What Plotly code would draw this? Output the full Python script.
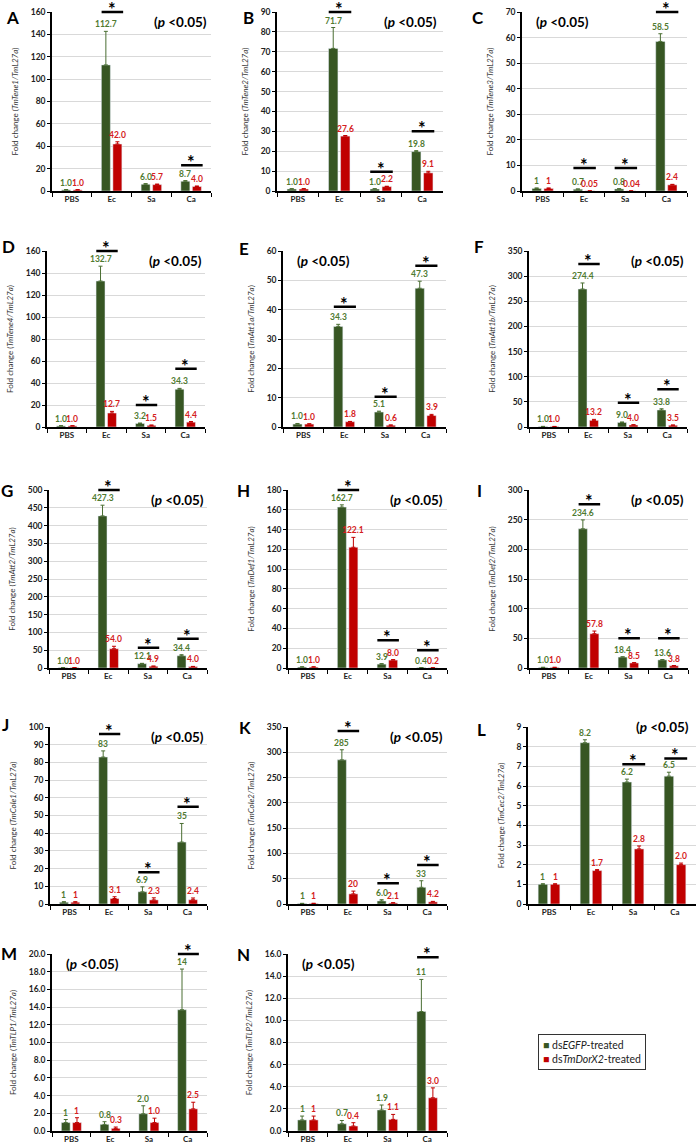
import plotly.graph_objects as go
from plotly.subplots import make_subplots

categories = ["PBS", "Ec", "Sa", "Ca"]

# A - TmTene1
a_egfp = [1.0, 112.7, 6.0, 8.7]
a_egfp_err = [0.3, 30.0, 0.6, 0.6]
a_dorx2 = [1.0, 42.0, 5.7, 4.0]
a_dorx2_err = [0.2, 2.0, 0.5, 0.5]
a_egfp_lbl = ["1.0", "112.7", "6.0", "8.7"]
a_dorx2_lbl = ["1.0", "42.0", "5.7", "4.0"]
a_sig = [None, 160, None, 23]

# B - TmTene2
b_egfp = [1.0, 71.7, 1.0, 19.8]
b_egfp_err = [0.2, 10.5, 0.2, 0.5]
b_dorx2 = [1.0, 27.6, 2.2, 9.1]
b_dorx2_err = [0.2, 0.3, 0.2, 0.8]
b_egfp_lbl = ["1.0", "71.7", "1.0", "19.8"]
b_dorx2_lbl = ["1.0", "27.6", "2.2", "9.1"]
b_sig = [None, 90, 9.7, 30]

# C - TmTene3
c_egfp = [1, 0.7, 0.8, 58.5]
c_egfp_err = [0.2, 0.1, 0.1, 3.0]
c_dorx2 = [1, 0.05, 0.04, 2.4]
c_dorx2_err = [0.2, 0.02, 0.02, 0.2]
c_egfp_lbl = ["1", "0.7", "0.8", "58.5"]
c_dorx2_lbl = ["1", "0.05", "0.04", "2.4"]
c_sig = [None, 9, 9, 70]

# D - TmTene4
d_egfp = [1.0, 132.7, 3.2, 34.3]
d_egfp_err = [0.2, 13.5, 0.4, 0.8]
d_dorx2 = [1.0, 12.7, 1.5, 4.4]
d_dorx2_err = [0.2, 1.5, 0.3, 0.6]
d_egfp_lbl = ["1.0", "132.7", "3.2", "34.3"]
d_dorx2_lbl = ["1.0", "12.7", "1.5", "4.4"]
d_sig = [None, 160, 20, 53]

# E - TmAtt1a
e_egfp = [1.0, 34.3, 5.1, 47.3]
e_egfp_err = [0.2, 0.7, 0.3, 2.4]
e_dorx2 = [1.0, 1.8, 0.6, 3.9]
e_dorx2_err = [0.1, 0.1, 0.1, 0.4]
e_egfp_lbl = ["1.0", "34.3", "5.1", "47.3"]
e_dorx2_lbl = ["1.0", "1.8", "0.6", "3.9"]
e_sig = [None, 41, 10.3, 55]

# F - TmAtt1b
f_egfp = [1.0, 274.4, 9.0, 33.8]
f_egfp_err = [0.3, 12.0, 1.0, 2.5]
f_dorx2 = [1.0, 13.2, 4.0, 3.5]
f_dorx2_err = [0.2, 2.0, 0.6, 0.5]
f_egfp_lbl = ["1.0", "274.4", "9.0", "33.8"]
f_dorx2_lbl = ["1.0", "13.2", "4.0", "3.5"]
f_sig = [None, 324, 48, 75]

# G - TmAtt2
g_egfp = [1.0, 427.3, 12.1, 34.4]
g_egfp_err = [0.2, 30.0, 1.0, 3.0]
g_dorx2 = [1.0, 54.0, 4.9, 4.0]
g_dorx2_err = [0.2, 7.0, 0.5, 0.5]
g_egfp_lbl = ["1.0", "427.3", "12.1", "34.4"]
g_dorx2_lbl = ["1.0", "54.0", "4.9", "4.0"]
g_sig = [None, 500, 57, 82]

# H - TmDef1
h_egfp = [1.0, 162.7, 3.9, 0.4]
h_egfp_err = [0.2, 2.3, 0.5, 0.1]
h_dorx2 = [1.0, 122.1, 8.0, 0.2]
h_dorx2_err = [0.2, 10.0, 0.5, 0.05]
h_egfp_lbl = ["1.0", "162.7", "3.9", "0.4"]
h_dorx2_lbl = ["1.0", "122.1", "8.0", "0.2"]
h_sig = [None, 180, 28, 18]

# I - TmDef2
i_egfp = [1.0, 234.6, 18.4, 13.6]
i_egfp_err = [0.2, 15.0, 0.5, 0.5]
i_dorx2 = [1.0, 57.8, 8.5, 3.8]
i_dorx2_err = [0.2, 4.5, 0.5, 0.4]
i_egfp_lbl = ["1.0", "234.6", "18.4", "13.6"]
i_dorx2_lbl = ["1.0", "57.8", "8.5", "3.8"]
i_sig = [None, 276, 50, 50]

# J - TmCole1
j_egfp = [1, 83, 6.9, 35]
j_egfp_err = [0.3, 3.5, 2.8, 10.5]
j_dorx2 = [1, 3.1, 2.3, 2.4]
j_dorx2_err = [0.3, 1.0, 1.2, 1.0]
j_egfp_lbl = ["1", "83", "6.9", "35"]
j_dorx2_lbl = ["1", "3.1", "2.3", "2.4"]
j_sig = [None, 96, 18, 55]

# K - TmCole2
k_egfp = [1, 285, 6.0, 33]
k_egfp_err = [0.3, 20.0, 2.5, 13.0]
k_dorx2 = [1, 20, 2.1, 4.2]
k_dorx2_err = [0.5, 5.5, 0.5, 1.0]
k_egfp_lbl = ["1", "285", "6.0", "33"]
k_dorx2_lbl = ["1", "20", "2.1", "4.2"]
k_sig = [None, 342, 41, 77]

# L - TmCec2
l_egfp = [1, 8.2, 6.2, 6.5]
l_egfp_err = [0.03, 0.15, 0.15, 0.2]
l_dorx2 = [1, 1.7, 2.8, 2.0]
l_dorx2_err = [0.03, 0.05, 0.15, 0.08]
l_egfp_lbl = ["1", "8.2", "6.2", "6.5"]
l_dorx2_lbl = ["1", "1.7", "2.8", "2.0"]
l_sig = [None, 9.1, 7.1, 7.4]

# M - TmTLP1
m_egfp = [0.95, 0.75, 1.95, 13.7]
m_egfp_err = [0.35, 0.3, 0.9, 4.6]
m_dorx2 = [0.95, 0.3, 0.95, 2.5]
m_dorx2_err = [0.55, 0.15, 0.5, 0.75]
m_egfp_lbl = ["1", "0.8", "2.0", "14"]
m_dorx2_lbl = ["1", "0.3", "1.0", "2.5"]
m_sig = [None, None, None, 20]

# N - TmTLP2
n_egfp = [1.0, 0.65, 1.9, 10.8]
n_egfp_err = [0.35, 0.3, 0.45, 2.9]
n_dorx2 = [1.0, 0.45, 1.05, 3.0]
n_dorx2_err = [0.35, 0.3, 0.45, 0.9]
n_egfp_lbl = ["1", "0.7", "1.9", "11"]
n_dorx2_lbl = ["1", "0.4", "1.1", "3.0"]
n_sig = [None, None, None, 15.7]

# letter, gene, y max, dtick, tick format, side of p-label
panels = [
    ("A", "TmTene1", 160, 20, "", "right", a_egfp, a_egfp_err, a_dorx2, a_dorx2_err, a_egfp_lbl, a_dorx2_lbl, a_sig),
    ("B", "TmTene2", 90, 10, "", "right", b_egfp, b_egfp_err, b_dorx2, b_dorx2_err, b_egfp_lbl, b_dorx2_lbl, b_sig),
    ("C", "TmTene3", 70, 10, "", "left", c_egfp, c_egfp_err, c_dorx2, c_dorx2_err, c_egfp_lbl, c_dorx2_lbl, c_sig),
    ("D", "TmTene4", 160, 20, "", "right", d_egfp, d_egfp_err, d_dorx2, d_dorx2_err, d_egfp_lbl, d_dorx2_lbl, d_sig),
    ("E", "TmAtt1a", 60, 10, "", "left", e_egfp, e_egfp_err, e_dorx2, e_dorx2_err, e_egfp_lbl, e_dorx2_lbl, e_sig),
    ("F", "TmAtt1b", 350, 50, "", "right", f_egfp, f_egfp_err, f_dorx2, f_dorx2_err, f_egfp_lbl, f_dorx2_lbl, f_sig),
    ("G", "TmAtt2", 500, 50, "", "right", g_egfp, g_egfp_err, g_dorx2, g_dorx2_err, g_egfp_lbl, g_dorx2_lbl, g_sig),
    ("H", "TmDef1", 180, 20, "", "right", h_egfp, h_egfp_err, h_dorx2, h_dorx2_err, h_egfp_lbl, h_dorx2_lbl, h_sig),
    ("I", "TmDef2", 300, 50, "", "right", i_egfp, i_egfp_err, i_dorx2, i_dorx2_err, i_egfp_lbl, i_dorx2_lbl, i_sig),
    ("J", "TmCole1", 100, 10, "", "right", j_egfp, j_egfp_err, j_dorx2, j_dorx2_err, j_egfp_lbl, j_dorx2_lbl, j_sig),
    ("K", "TmCole2", 350, 50, "", "right", k_egfp, k_egfp_err, k_dorx2, k_dorx2_err, k_egfp_lbl, k_dorx2_lbl, k_sig),
    ("L", "TmCec2", 9, 1, "", "top", l_egfp, l_egfp_err, l_dorx2, l_dorx2_err, l_egfp_lbl, l_dorx2_lbl, l_sig),
    ("M", "TmTLP1", 20, 2, ".1f", "left", m_egfp, m_egfp_err, m_dorx2, m_dorx2_err, m_egfp_lbl, m_dorx2_lbl, m_sig),
    ("N", "TmTLP2", 16, 2, ".1f", "left", n_egfp, n_egfp_err, n_dorx2, n_dorx2_err, n_egfp_lbl, n_dorx2_lbl, n_sig),
]

W, H = 698, 1147
GREEN = "#375623"
RED = "#c00000"
GREEN_TXT = "#4f7a30"
RED_TXT = "#d42020"
FONT = "Lato, Open Sans, sans-serif"

# plot boxes in pixels
row_px = [(12, 191), (251, 427), (490, 668), (727, 904), (954, 1131)]
col_px = [
    [(52, 211), (277, 443), (522, 687)],
    [(47, 205), (283, 446), (529, 687)],
    [(49, 207), (288, 447), (529, 688)],
    [(50, 207), (288, 447), (528, 696)],
    [(52, 207), (288, 447)],
]
letter_px = [(12, 18), (248, 18), (478, 18), (8, 247), (244, 248), (479, 247),
             (7, 490), (243, 490), (480, 490), (5, 724), (245, 727), (482, 729),
             (9, 953), (243, 954)]

specs = [[{}, {}, {}] for _ in range(4)] + [[{}, {}, None]]
fig = make_subplots(rows=5, cols=3, specs=specs)

annotations = []
off = 0.145
p_text = "<b>(<i>p</i> &lt;0.05)</b>"
p_font = dict(family=FONT, size=13.5, color="black")

for p, (letter, gene, ymax, dt, tfmt, side, eg, eg_err, dx, dx_err, eg_lbl, dx_lbl, sig) in enumerate(panels):
    r, c = divmod(p, 3)
    n = p + 1
    suffix = "" if n == 1 else str(n)
    xr, yr = f"x{suffix}", f"y{suffix}"
    fig.add_trace(go.Bar(x=categories, y=eg, marker_color=GREEN, name="dsEGFP-treated",
                         error_y=dict(type="data", symmetric=False, array=eg_err, arrayminus=[0] * 4,
                                      color="#4a6e32", thickness=1, width=2),
                         showlegend=False), row=r + 1, col=c + 1)
    fig.add_trace(go.Bar(x=categories, y=dx, marker_color=RED, name="dsTmDorX2-treated",
                         error_y=dict(type="data", symmetric=False, array=dx_err, arrayminus=[0] * 4,
                                      color=RED, thickness=1, width=2),
                         showlegend=False), row=r + 1, col=c + 1)

    y0, y1 = row_px[r]
    x0, x1 = col_px[r][c]
    fig.layout[f"xaxis{n}"].domain = [x0 / W, x1 / W]
    fig.layout[f"yaxis{n}"].domain = [(H - y1) / H, (H - y0) / H]
    fig.update_xaxes(type="category", categoryorder="array", categoryarray=categories,
                     showline=True, linecolor="black", linewidth=1.5, ticks="outside",
                     tickson="boundaries", ticklen=4, tickcolor="black", showgrid=False,
                     automargin=False,
                     tickfont=dict(family=FONT, size=8, weight="bold", color="#222"),
                     row=r + 1, col=c + 1)
    fig.update_yaxes(range=[0, ymax], dtick=dt, tickformat=tfmt, showline=True, linecolor="black",
                     linewidth=1.5, ticks="outside", ticklen=3, tickcolor="black",
                     gridcolor="#d9d9d9", gridwidth=1, zeroline=False, automargin=False,
                     ticklabeloverflow="allow",
                     tickfont=dict(family=FONT, size=8.5, weight="bold", color="#222"),
                     title=dict(text=f"Fold change (<i>{gene}/TmL27a</i>)", standoff=11,
                                font=dict(family=FONT, size=8, color="#333")),
                     row=r + 1, col=c + 1)

    for i in range(4):
        annotations.append(dict(x=i - off, y=eg[i] + eg_err[i], xref=xr, yref=yr, text=f"<b>{eg_lbl[i]}</b>",
                                showarrow=False, yanchor="bottom", yshift=0,
                                font=dict(family=FONT, size=8.5, color=GREEN_TXT)))
        annotations.append(dict(x=i + off, y=dx[i] + dx_err[i], xref=xr, yref=yr, text=f"<b>{dx_lbl[i]}</b>",
                                showarrow=False, yanchor="bottom", yshift=0,
                                font=dict(family=FONT, size=8.5, color=RED_TXT)))
        if sig[i] is not None:
            annotations.append(dict(x=i + 0.29, y=sig[i], ax=i - 0.29, ay=sig[i], xref=xr, yref=yr,
                                    axref=xr, ayref=yr, text="", showarrow=True, arrowhead=0,
                                    arrowwidth=2.5, arrowcolor="black", standoff=0, startstandoff=0))
            annotations.append(dict(x=i, y=sig[i], xref=xr, yref=yr, text="<b>*</b>", showarrow=False,
                                    yanchor="middle", yshift=3, font=dict(family=FONT, size=18, color="black")))

    px = 0.075 if side == "left" else 0.63
    annotations.append(dict(x=px, y=1, xref=f"{xr} domain", yref=f"{yr} domain", xanchor="left",
                            yanchor="middle", yshift=0 if side == "top" else -10, text=p_text,
                            showarrow=False, font=p_font))

    lx, ly = letter_px[p]
    annotations.append(dict(x=lx / W, y=(H - ly) / H, xref="paper", yref="paper", text=f"<b>{letter}</b>",
                            showarrow=False, xanchor="center", yanchor="middle",
                            font=dict(family=FONT, size=17, color="black")))

# legend box
annotations.append(dict(
    x=538 / W, y=(H - 1034) / H, xref="paper", yref="paper", xanchor="left", yanchor="top",
    align="left", showarrow=False, bordercolor="#333", borderwidth=1, borderpad=4, bgcolor="white",
    text=(f'<span style="color:{GREEN}">■</span> ds<i>EGFP</i>-treated<br>'
          f'<span style="color:{RED}">■</span> ds<i>TmDorX2</i>-treated'),
    font=dict(family=FONT, size=10.5, color="#222")))

fig.update_layout(
    width=W, height=H, margin=dict(l=0, r=0, t=0, b=0, autoexpand=False),
    barmode="group", bargap=0.42, bargroupgap=0.22,
    plot_bgcolor="white", paper_bgcolor="white",
    showlegend=False, annotations=annotations,
    font=dict(family=FONT),
)

# page body has a default 8px margin; drop it so the figure sits at the window origin
fig.write_html("out.html", config={"displayModeBar": False},
               post_script="document.body.style.margin='0px';")
